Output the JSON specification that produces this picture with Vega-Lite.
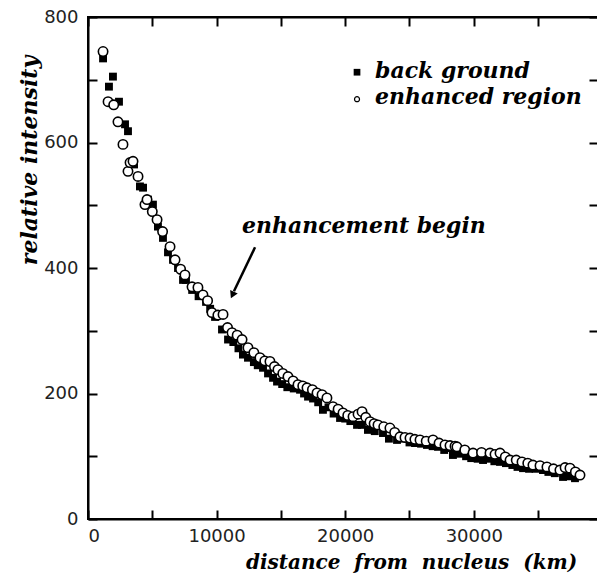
{
  "$schema": "https://vega.github.io/schema/vega-lite/v6.json",
  "width": 510,
  "height": 502,
  "autosize": "none",
  "padding": {"left": 88, "top": 17, "right": 0, "bottom": 56},
  "background": "white",
  "config": {
    "view": {"stroke": "black", "strokeWidth": 2},
    "axis": {
      "grid": false,
      "domainColor": "black",
      "domainWidth": 2,
      "tickColor": "black",
      "tickWidth": 2,
      "tickSize": -9,
      "labelFont": "DejaVu Sans",
      "labelFontSize": 18,
      "labelColor": "#222",
      "titleFont": "DejaVu Serif",
      "titleFontStyle": "italic",
      "titleFontWeight": "bold",
      "titleFontSize": 22,
      "titleColor": "black"
    }
  },
  "datasets": {
    "bg": [
      {"distance": 1170, "intensity": 734}, {"distance": 1630, "intensity": 689}, {"distance": 1940, "intensity": 705},
      {"distance": 2410, "intensity": 665}, {"distance": 2880, "intensity": 629}, {"distance": 3110, "intensity": 618},
      {"distance": 3580, "intensity": 565}, {"distance": 4040, "intensity": 530}, {"distance": 4280, "intensity": 528},
      {"distance": 4670, "intensity": 509}, {"distance": 5050, "intensity": 501}, {"distance": 5440, "intensity": 466},
      {"distance": 5830, "intensity": 448}, {"distance": 6220, "intensity": 425}, {"distance": 6610, "intensity": 413},
      {"distance": 7000, "intensity": 400}, {"distance": 7390, "intensity": 381}, {"distance": 7620, "intensity": 381},
      {"distance": 8100, "intensity": 365}, {"distance": 8600, "intensity": 355}, {"distance": 9180, "intensity": 346},
      {"distance": 9500, "intensity": 335}, {"distance": 9880, "intensity": 322}, {"distance": 10420, "intensity": 302},
      {"distance": 10890, "intensity": 286}, {"distance": 11300, "intensity": 282}, {"distance": 11700, "intensity": 272},
      {"distance": 12050, "intensity": 262}, {"distance": 12440, "intensity": 257}, {"distance": 12900, "intensity": 250},
      {"distance": 13200, "intensity": 245}, {"distance": 13610, "intensity": 241}, {"distance": 14000, "intensity": 232},
      {"distance": 14390, "intensity": 225}, {"distance": 14700, "intensity": 219}, {"distance": 15100, "intensity": 215},
      {"distance": 15500, "intensity": 210}, {"distance": 16000, "intensity": 208}, {"distance": 16490, "intensity": 206},
      {"distance": 16800, "intensity": 200}, {"distance": 17110, "intensity": 195}, {"distance": 17500, "intensity": 192},
      {"distance": 17900, "intensity": 186}, {"distance": 18270, "intensity": 174}, {"distance": 18700, "intensity": 178},
      {"distance": 19100, "intensity": 168}, {"distance": 19600, "intensity": 161}, {"distance": 20000, "intensity": 160},
      {"distance": 20400, "intensity": 156}, {"distance": 20920, "intensity": 150}, {"distance": 21300, "intensity": 150},
      {"distance": 21770, "intensity": 142}, {"distance": 22300, "intensity": 140}, {"distance": 22940, "intensity": 137},
      {"distance": 23400, "intensity": 128}, {"distance": 24030, "intensity": 126}, {"distance": 24500, "intensity": 128},
      {"distance": 25000, "intensity": 122}, {"distance": 25430, "intensity": 121}, {"distance": 25900, "intensity": 120},
      {"distance": 26360, "intensity": 118}, {"distance": 26800, "intensity": 116}, {"distance": 27220, "intensity": 115},
      {"distance": 27700, "intensity": 110}, {"distance": 28300, "intensity": 113}, {"distance": 28380, "intensity": 102},
      {"distance": 28900, "intensity": 104}, {"distance": 29400, "intensity": 100}, {"distance": 29800, "intensity": 97},
      {"distance": 30300, "intensity": 96}, {"distance": 30720, "intensity": 94}, {"distance": 31200, "intensity": 96},
      {"distance": 31600, "intensity": 92}, {"distance": 32040, "intensity": 91}, {"distance": 32500, "intensity": 89},
      {"distance": 33000, "intensity": 86}, {"distance": 33400, "intensity": 83}, {"distance": 33830, "intensity": 81},
      {"distance": 34300, "intensity": 80}, {"distance": 34800, "intensity": 80}, {"distance": 35380, "intensity": 78},
      {"distance": 35800, "intensity": 75}, {"distance": 36300, "intensity": 73}, {"distance": 36940, "intensity": 67},
      {"distance": 37400, "intensity": 68}, {"distance": 37870, "intensity": 65}
    ],
    "en": [
      {"distance": 1170, "intensity": 745}, {"distance": 1560, "intensity": 665}, {"distance": 2000, "intensity": 660},
      {"distance": 2330, "intensity": 633}, {"distance": 2720, "intensity": 597}, {"distance": 3110, "intensity": 554},
      {"distance": 3270, "intensity": 568}, {"distance": 3500, "intensity": 570}, {"distance": 3890, "intensity": 546},
      {"distance": 4430, "intensity": 501}, {"distance": 4590, "intensity": 509}, {"distance": 5000, "intensity": 490},
      {"distance": 5370, "intensity": 477}, {"distance": 5800, "intensity": 458}, {"distance": 6380, "intensity": 434},
      {"distance": 6770, "intensity": 413}, {"distance": 7200, "intensity": 398}, {"distance": 7540, "intensity": 389},
      {"distance": 8090, "intensity": 370}, {"distance": 8550, "intensity": 369}, {"distance": 8940, "intensity": 357},
      {"distance": 9300, "intensity": 348}, {"distance": 9640, "intensity": 329}, {"distance": 10100, "intensity": 325},
      {"distance": 10500, "intensity": 326}, {"distance": 10850, "intensity": 305}, {"distance": 11200, "intensity": 297},
      {"distance": 11600, "intensity": 293}, {"distance": 11980, "intensity": 286}, {"distance": 12440, "intensity": 273},
      {"distance": 12900, "intensity": 265}, {"distance": 13370, "intensity": 257}, {"distance": 13750, "intensity": 252},
      {"distance": 14150, "intensity": 251}, {"distance": 14500, "intensity": 243}, {"distance": 14770, "intensity": 238},
      {"distance": 15150, "intensity": 232}, {"distance": 15550, "intensity": 227}, {"distance": 15950, "intensity": 220},
      {"distance": 16330, "intensity": 214}, {"distance": 16700, "intensity": 212}, {"distance": 17030, "intensity": 209},
      {"distance": 17450, "intensity": 206}, {"distance": 17810, "intensity": 201}, {"distance": 18200, "intensity": 198},
      {"distance": 18580, "intensity": 193}, {"distance": 19050, "intensity": 179}, {"distance": 19450, "intensity": 175},
      {"distance": 19830, "intensity": 169}, {"distance": 20200, "intensity": 165}, {"distance": 20610, "intensity": 163},
      {"distance": 21000, "intensity": 167}, {"distance": 21310, "intensity": 171}, {"distance": 21600, "intensity": 162},
      {"distance": 21930, "intensity": 155}, {"distance": 22250, "intensity": 152}, {"distance": 22550, "intensity": 150},
      {"distance": 23000, "intensity": 147}, {"distance": 23480, "intensity": 145}, {"distance": 23850, "intensity": 138},
      {"distance": 24260, "intensity": 131}, {"distance": 24650, "intensity": 130}, {"distance": 25040, "intensity": 129},
      {"distance": 25420, "intensity": 127}, {"distance": 25820, "intensity": 126}, {"distance": 26300, "intensity": 124},
      {"distance": 26830, "intensity": 126}, {"distance": 27300, "intensity": 121}, {"distance": 27760, "intensity": 118},
      {"distance": 28150, "intensity": 117}, {"distance": 28540, "intensity": 116}, {"distance": 28690, "intensity": 115},
      {"distance": 29300, "intensity": 110}, {"distance": 29940, "intensity": 105}, {"distance": 30600, "intensity": 106},
      {"distance": 31260, "intensity": 105}, {"distance": 31650, "intensity": 103}, {"distance": 32040, "intensity": 105},
      {"distance": 32450, "intensity": 99}, {"distance": 32820, "intensity": 94}, {"distance": 33300, "intensity": 94},
      {"distance": 33750, "intensity": 91}, {"distance": 34200, "intensity": 89}, {"distance": 34600, "intensity": 86},
      {"distance": 35150, "intensity": 85}, {"distance": 35690, "intensity": 83}, {"distance": 36200, "intensity": 80},
      {"distance": 36700, "intensity": 78}, {"distance": 37100, "intensity": 82}, {"distance": 37480, "intensity": 81},
      {"distance": 37900, "intensity": 75}, {"distance": 38260, "intensity": 70}
    ],
    "legendText": [
      {"distance": 22320, "intensity": 703, "label": "back ground"},
      {"distance": 22320, "intensity": 661, "label": "enhanced region"},
      {"distance": 11975, "intensity": 456, "label": "enhancement begin"}
    ],
    "legendSquare": [{"distance": 20920, "intensity": 712}],
    "legendCircle": [{"distance": 20920, "intensity": 669}],
    "arrow": [{"distance": 12990, "intensity": 433, "distance2": 11350, "intensity2": 363}],
    "arrowHead": [{"distance": 11230, "intensity": 357}]
  },
  "layer": [
    {
      "data": {"name": "bg"},
      "mark": {"type": "point", "shape": "square", "filled": true, "color": "black", "size": 62, "opacity": 1},
      "encoding": {
        "x": {
          "field": "distance", "type": "quantitative",
          "scale": {"domain": [0, 39660], "nice": false, "zero": false},
          "axis": {
            "orient": "bottom",
            "values": [0, 5000, 10000, 15000, 20000, 25000, 30000, 35000],
            "format": "d",
            "labelExpr": "datum.value % 10000 == 0 ? datum.label : ''",
            "labelPadding": 17,
            "title": "distance\u00a0 from\u00a0 nucleus\u00a0 (km)",
            "titleFontSize": 20,
            "titleX": 323, "titleY": 49, "titleAlign": "center", "titleBaseline": "alphabetic"
          }
        },
        "y": {
          "field": "intensity", "type": "quantitative",
          "scale": {"domain": [0, 800], "nice": false},
          "axis": {
            "orient": "left",
            "values": [0, 100, 200, 300, 400, 500, 600, 700, 800],
            "labelExpr": "datum.value % 200 == 0 ? datum.label : ''",
            "labelPadding": 19,
            "title": "relative intensity",
            "titleAngle": 270, "titleX": -52, "titleY": 143, "titleAlign": "center", "titleBaseline": "alphabetic"
          }
        }
      }
    },
    {
      "data": {"name": "en"},
      "mark": {"type": "point", "shape": "circle", "filled": true, "fill": "white", "stroke": "black", "strokeWidth": 1.6, "size": 88, "opacity": 1},
      "encoding": {
        "x": {
          "field": "distance", "type": "quantitative",
          "axis": {"orient": "top", "values": [0, 5000, 10000, 15000, 20000, 25000, 30000, 35000], "labels": false, "title": null}
        },
        "y": {
          "field": "intensity", "type": "quantitative",
          "axis": {"orient": "right", "values": [0, 100, 200, 300, 400, 500, 600, 700, 800], "labels": false, "title": null}
        }
      }
    },
    {
      "data": {"name": "legendSquare"},
      "mark": {"type": "point", "shape": "square", "filled": true, "color": "black", "size": 45, "opacity": 1},
      "encoding": {
        "x": {"field": "distance", "type": "quantitative", "axis": null},
        "y": {"field": "intensity", "type": "quantitative", "axis": null}
      }
    },
    {
      "data": {"name": "legendCircle"},
      "mark": {"type": "point", "shape": "circle", "filled": false, "color": "black", "strokeWidth": 1.2, "size": 25, "opacity": 1},
      "encoding": {
        "x": {"field": "distance", "type": "quantitative", "axis": null},
        "y": {"field": "intensity", "type": "quantitative", "axis": null}
      }
    },
    {
      "data": {"name": "legendText"},
      "mark": {"type": "text", "align": "left", "baseline": "alphabetic", "font": "DejaVu Serif", "fontStyle": "italic", "fontWeight": "bold", "fontSize": 22, "color": "black"},
      "encoding": {
        "x": {"field": "distance", "type": "quantitative", "axis": null},
        "y": {"field": "intensity", "type": "quantitative", "axis": null},
        "text": {"field": "label"}
      }
    },
    {
      "data": {"name": "arrow"},
      "mark": {"type": "rule", "color": "black", "strokeWidth": 2.5},
      "encoding": {
        "x": {"field": "distance", "type": "quantitative", "axis": null},
        "y": {"field": "intensity", "type": "quantitative", "axis": null},
        "x2": {"field": "distance2"},
        "y2": {"field": "intensity2"}
      }
    },
    {
      "data": {"name": "arrowHead"},
      "mark": {"type": "point", "shape": "triangle-up", "filled": true, "color": "black", "size": 70, "angle": 205, "opacity": 1},
      "encoding": {
        "x": {"field": "distance", "type": "quantitative", "axis": null},
        "y": {"field": "intensity", "type": "quantitative", "axis": null}
      }
    }
  ]
}
